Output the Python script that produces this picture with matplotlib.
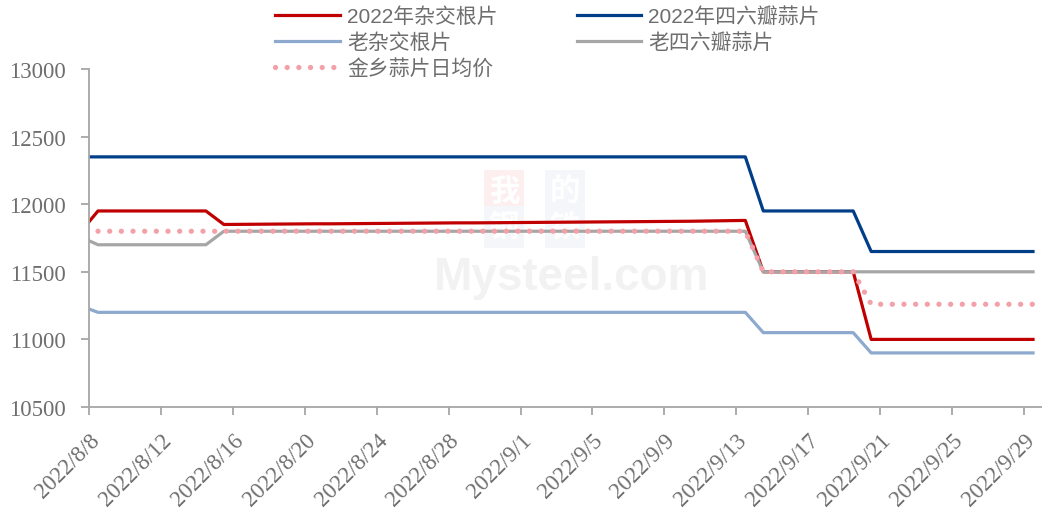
import numpy as np
import pandas as pd
import matplotlib
matplotlib.use("Agg")
import matplotlib.pyplot as plt
import matplotlib.transforms as mtransforms

# daily data, 2022/8/7 .. 2022/9/29
dates = pd.date_range("2022-08-07", "2022-09-29", freq="D")

red_2022_zajiao = ([11790] + [11950] * 7 +
                   [11850, 11851, 11852, 11853, 11854, 11855, 11855, 11856, 11857, 11858,
                    11859, 11860, 11861, 11862, 11862, 11863, 11864, 11865, 11866, 11867,
                    11868, 11869, 11870, 11871, 11872, 11873, 11874, 11876, 11878, 11880] +
                   [11500] * 6 + [11000] * 10)
navy_2022_sixliu = [12350] * 38 + [11950] * 6 + [11650] * 10
old_zajiao = [11250] + [11200] * 37 + [11050] * 6 + [10900] * 10
old_sixliu = [11760] + [11700] * 7 + [11800] * 30 + [11500] * 16
jinxiang_avg = [np.nan] + [11800] * 37 + [11500] * 6 + [11260] * 10

labels = ["2022年杂交根片", "老杂交根片", "金乡蒜片日均价", "2022年四六瓣蒜片", "老四六瓣蒜片"]

y_ticks = [10500, 11000, 11500, 12000, 12500, 13000]

plt.rcParams['font.family'] = ['Liberation Serif', 'Noto Sans CJK SC']
axis_grey = "#A6A6A6"
text_grey = "#6E6E6E"

W, H = 1042, 510
fig = plt.figure(figsize=(W / 100, H / 100), dpi=100)
fig.patch.set_facecolor("#FFFFFF")
ax = fig.add_axes([89 / W, 1 - 408 / H, 1 - 89 / W, (408 - 70) / H])

# points sit in the middle of each day slot
x = dates + pd.Timedelta(hours=12)

l_red, = ax.plot(x, red_2022_zajiao, color="#C00000", linewidth=2.3)
l_old_zj, = ax.plot(x, old_zajiao, color="#8EA9CE", linewidth=2.3)
l_avg, = ax.plot(x, jinxiang_avg, color="#F4A0A8", linewidth=3.8, linestyle=(0, (0.01, 2.2)),
                 dash_capstyle="round")
l_navy, = ax.plot(x, navy_2022_sixliu, color="#003F87", linewidth=2.3)
l_old_sl, = ax.plot(x, old_sixliu, color="#A6A6A6", linewidth=2.3)
l_avg.set_zorder(5)

ax.set_xlim(pd.Timestamp("2022-08-08"), pd.Timestamp("2022-09-30"))
ax.set_ylim(10500, 13000)
ax.set_yticks(y_ticks)

tick_dates = pd.date_range("2022-08-08", "2022-09-29", freq="4D")
ax.set_xticks(tick_dates)
ax.set_xticklabels([f"{d.year}/{d.month}/{d.day}" for d in tick_dates])

for lab in ax.get_xticklabels():
    lab.set_rotation(45)
    lab.set_ha("right")
    lab.set_va("top")
    lab.set_rotation_mode("anchor")
    lab.set_transform(lab.get_transform() + mtransforms.ScaledTranslation(11 / 100, 0, fig.dpi_scale_trans))

ax.tick_params(axis="both", colors=axis_grey, labelcolor=text_grey, labelsize=16.5, direction="out")
ax.tick_params(axis="x", length=6, width=1.3, pad=10)
ax.tick_params(axis="y", length=6, width=1.3, pad=11)

for s in ["top", "right"]:
    ax.spines[s].set_visible(False)
ax.spines["left"].set_color(axis_grey)
ax.spines["bottom"].set_color(axis_grey)
ax.spines["left"].set_linewidth(1.3)
ax.spines["bottom"].set_linewidth(1.3)


def px(xp, yp):
    # image pixel -> axes fraction (for the watermark only)
    return (xp - 89) / (W - 89), (408 - yp) / (408 - 70)


# faint watermark
for ch, cx, cy, bg in [("我", 504, 192, "#FDEFEF"), ("的", 565, 192, "#F4F6FA"),
                       ("钢", 504, 228, "#F4F6FA"), ("铁", 565, 228, "#F4F6FA")]:
    ax.text(*px(cx, cy), ch, transform=ax.transAxes, fontsize=22, color="#FFFFFF", ha="center",
            va="center", family=["Noto Sans CJK SC"], fontweight="bold", zorder=0,
            bbox=dict(boxstyle="square,pad=0.15", facecolor=bg, edgecolor="none"))
ax.text(*px(572, 278), "Mysteel.com", transform=ax.transAxes, fontsize=33, color="#F2F2F2",
        ha="center", va="center", family=["Liberation Sans"], fontweight="bold", zorder=0)

leg = fig.legend([l_red, l_old_zj, l_avg, l_navy, l_old_sl], labels,
                 loc="upper left", bbox_to_anchor=(267 / W, 1.002), ncol=2, frameon=False,
                 prop={"family": ["Liberation Sans", "Noto Sans CJK SC"], "size": 15},
                 handlelength=3.1, handletextpad=0.34, columnspacing=3.8, labelspacing=0.3,
                 borderaxespad=0)
for t in leg.get_texts():
    t.set_color(text_grey)

fig.savefig("out.png", dpi=100, facecolor=fig.get_facecolor())
